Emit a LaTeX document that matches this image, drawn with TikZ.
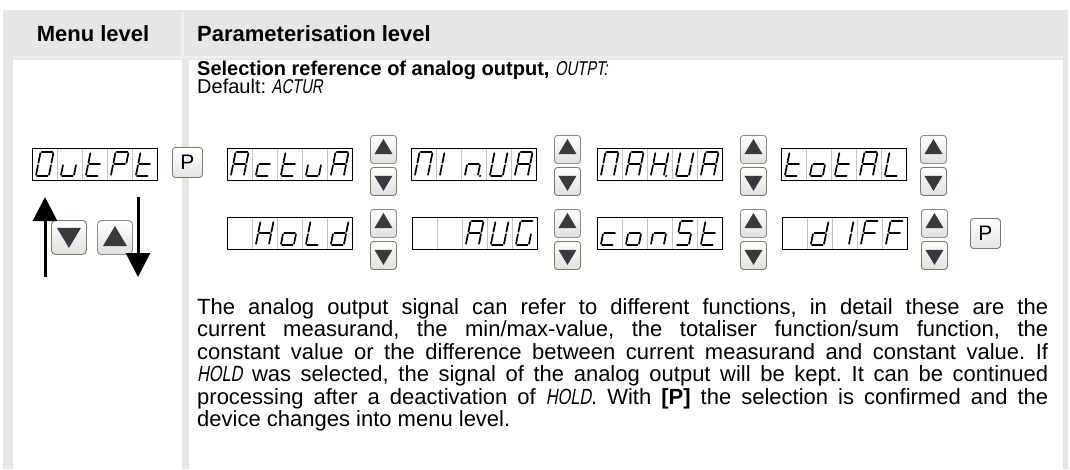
\documentclass[tikz,border=0pt]{standalone}
\usepackage{fontspec}
\setmainfont{Liberation Sans}
\newfontfamily\dinfont{Liberation Sans}[FakeStretch=0.74,FakeSlant=0.18]
\usetikzlibrary{arrows.meta,calc}
\definecolor{tblgray}{HTML}{E6E6E6}
\definecolor{hdrline}{HTML}{EFEFEF}
\definecolor{btnup}{HTML}{8A8A8A}
\definecolor{btndn}{HTML}{7E7B58}
\definecolor{tri}{HTML}{3A3A3A}
\definecolor{celldiv}{HTML}{C4C4C4}
\tikzset{
  x=1pt,y=1pt,
  txt/.style={inner sep=0pt,font=\fontsize{20}{22.5}\selectfont},
  ptxt/.style={inner sep=0pt,font=\fontsize{22}{22.5}\selectfont},
  hdr/.style={inner sep=0pt,font=\fontsize{22}{22.5}\selectfont\bfseries},
  dispbox/.style={draw=black,line width=0.9pt,minimum width=125pt,minimum height=32pt,inner sep=0pt,anchor=north west},
  segline/.style={line width=1.7pt,line cap=round},
  btnsmall/.style={rounded corners=3pt,line width=0.9pt,minimum width=26pt,minimum height=28pt,inner sep=0pt,anchor=north west,top color=white,bottom color=black!12},
  btnbig/.style={rounded corners=4pt,line width=0.9pt,minimum width=35pt,minimum height=34pt,inner sep=0pt,anchor=north west,top color=white,bottom color=black!12},
  pbtn/.style={rounded corners=3pt,line width=0.9pt,draw=btndn,minimum width=30pt,minimum height=30pt,inner sep=0pt,anchor=north west,top color=white,bottom color=black!10,font=\fontsize{21}{22}\selectfont},
  bigarrow/.style={line width=3pt,-{Triangle[width=24pt,length=24pt]}},
  seg/.cd,
  a/.code={\draw[segline] (1.2,24)--(11.8,24);},
  b/.code={\draw[segline] (13,22.8)--(13,13.2);},
  c/.code={\draw[segline] (13,10.8)--(13,1.2);},
  d/.code={\draw[segline] (1.2,0)--(11.8,0);},
  e/.code={\draw[segline] (0,1.2)--(0,10.8);},
  f/.code={\draw[segline] (0,13.2)--(0,22.8);},
  g/.code={\draw[segline] (1.2,12)--(11.8,12);},
  p/.code={\fill (15.3,0) circle (1.2);},
  none/.code={}
}
\newcommand\segcell[3]{%
  \begin{scope}[shift={(#1+3.8,-#2-28)},xslant=0.2]
    \foreach \s in {#3}{\edef\segtmp{\noexpand\pgfkeys{/tikz/seg/\s}}\segtmp}
  \end{scope}}
\newcommand\dispnode[8]{%
  \node[dispbox] (#1) at (#2,-#3) {};
  \foreach \k in {1,...,4}{\draw[celldiv,line width=0.8pt] ($(#1.north west)+(25*\k,-0.5)$) -- ($(#1.south west)+(25*\k,0.5)$);}
  \segcell{#2}{#3}{#4}\segcell{#2+25}{#3}{#5}\segcell{#2+50}{#3}{#6}\segcell{#2+75}{#3}{#7}\segcell{#2+100}{#3}{#8}}
\newcommand\upbtn[3]{%
  \node[btnsmall,draw=btnup] (#1) at (#2,-#3) {};
  \fill[tri] ($(#1.north)+(0,-4)$) -- ($(#1.north)+(-9,-19)$) -- ($(#1.north)+(9,-19)$) -- cycle;}
\newcommand\dnbtn[3]{%
  \node[btnsmall,draw=btndn] (#1) at (#2,-#3) {};
  \fill[tri] ($(#1.south)+(0,5)$) -- ($(#1.south)+(-9,20)$) -- ($(#1.south)+(9,20)$) -- cycle;}
\frenchspacing
\begin{document}
\begin{tikzpicture}
\useasboundingbox (0,0) rectangle (1070,-469);
\fill[white] (0,0) rectangle (1070,-469);
% table frame
\fill[tblgray] (3,-10) rectangle (1068,-469);
\fill[hdrline] (181,-12) rectangle (184,-57);
\fill[hdrline] (13,-56) rectangle (1063,-58);
\fill[white] (13,-60) rectangle (182,-469);
\fill[white] (189,-60) rectangle (1063,-469);
% header
\node[hdr,anchor=base] (h1) at (93,-41) {Menu level};
\node[hdr,anchor=base west] (h2) at (197,-41) {Parameterisation level};
% title lines
\node[txt,anchor=base west] (t1) at (197,-75) {\bfseries Selection reference of analog output, {\dinfont\mdseries OUTPT:}};
\node[txt,anchor=base west] (t2) at (197,-93) {Default: {\dinfont ACTUR}};
% menu level
\dispnode{outpt}{32}{148}{a,b,c,d,e,f}{c,d,e}{d,e,f,g}{a,b,e,f,g}{d,e,f,g}
\node[pbtn] (pm) at (172,-147) {P};
\node[btnbig,draw=btndn] (bdn) at (51,-220) {};
\fill[tri] ($(bdn.south)+(0,7)$) -- ($(bdn.south)+(-12,27)$) -- ($(bdn.south)+(12,27)$) -- cycle;
\node[btnbig,draw=btnup] (bup) at (97,-220) {};
\fill[tri] ($(bup.north)+(0,-6)$) -- ($(bup.north)+(-12,-26)$) -- ($(bup.north)+(12,-26)$) -- cycle;
\coordinate (ua) at (45,-277);
\coordinate (ub) at (45,-197);
\coordinate (da) at (138,-197);
\coordinate (db) at (138,-277);
\draw[bigarrow] (ua) -- (ub);
\draw[bigarrow] (da) -- (db);
% row 1
\dispnode{actua}{227}{148}{a,b,c,e,f,g}{d,e,g}{d,e,f,g}{c,d,e}{a,b,c,e,f,g}
\upbtn{u11}{370}{135}\dnbtn{d11}{370}{167}
\dispnode{minua}{411}{148}{a,b,c,e,f}{e,f}{c,e,g,p}{b,c,d,e,f}{a,b,c,e,f,g}
\upbtn{u12}{554}{135}\dnbtn{d12}{554}{167}
\dispnode{maxua}{597}{148}{a,b,c,e,f}{a,b,c,e,f,g}{b,c,e,f,g,p}{b,c,d,e,f}{a,b,c,e,f,g}
\upbtn{u13}{740}{135}\dnbtn{d13}{740}{167}
\dispnode{total}{781}{148}{d,e,f,g}{c,d,e,g}{d,e,f,g}{a,b,c,e,f,g}{d,e,f}
\upbtn{u14}{920}{135}\dnbtn{d14}{920}{167}
% row 2
\dispnode{hold}{227}{217}{none}{b,c,e,f,g}{c,d,e,g}{d,e,f}{b,c,d,e,g}
\upbtn{u21}{370}{209}\dnbtn{d21}{370}{241}
\dispnode{aug}{412}{217}{none}{none}{a,b,c,e,f,g}{b,c,d,e,f}{a,c,d,e,f}
\upbtn{u22}{554}{209}\dnbtn{d22}{554}{241}
\dispnode{const}{597}{217}{d,e,g}{c,d,e,g}{c,e,g}{a,c,d,f,g}{d,e,f,g}
\upbtn{u23}{740}{209}\dnbtn{d23}{740}{241}
\dispnode{diff}{782}{217}{none}{b,c,d,e,g}{b,c}{a,e,f,g}{a,e,f,g}
\upbtn{u24}{921}{209}\dnbtn{d24}{921}{241}
\node[pbtn] (pe) at (970,-218) {P};
% paragraph
\node[ptxt,anchor=base west] (p1) at (197,-314) {\makebox[851pt][s]{The analog output signal can refer to different functions, in detail these are the}};
\node[ptxt,anchor=base west] (p2) at (197,-336.5) {\makebox[851pt][s]{current measurand, the min/max-value, the totaliser function/sum function, the}};
\node[ptxt,anchor=base west] (p3) at (197,-359) {\makebox[851pt][s]{constant value or the difference between current measurand and constant value. If}};
\node[ptxt,anchor=base west] (p4) at (197,-381.5) {\makebox[851pt][s]{{\dinfont HOLD} was selected, the signal of the analog output will be kept. It can be continued}};
\node[ptxt,anchor=base west] (p5) at (197,-404) {\makebox[851pt][s]{processing after a deactivation of {\dinfont HOLD}. With \textbf{[P]} the selection is confirmed and the}};
\node[ptxt,anchor=base west] (p6) at (197,-426.5) {device changes into menu level.};
\end{tikzpicture}
\end{document}
